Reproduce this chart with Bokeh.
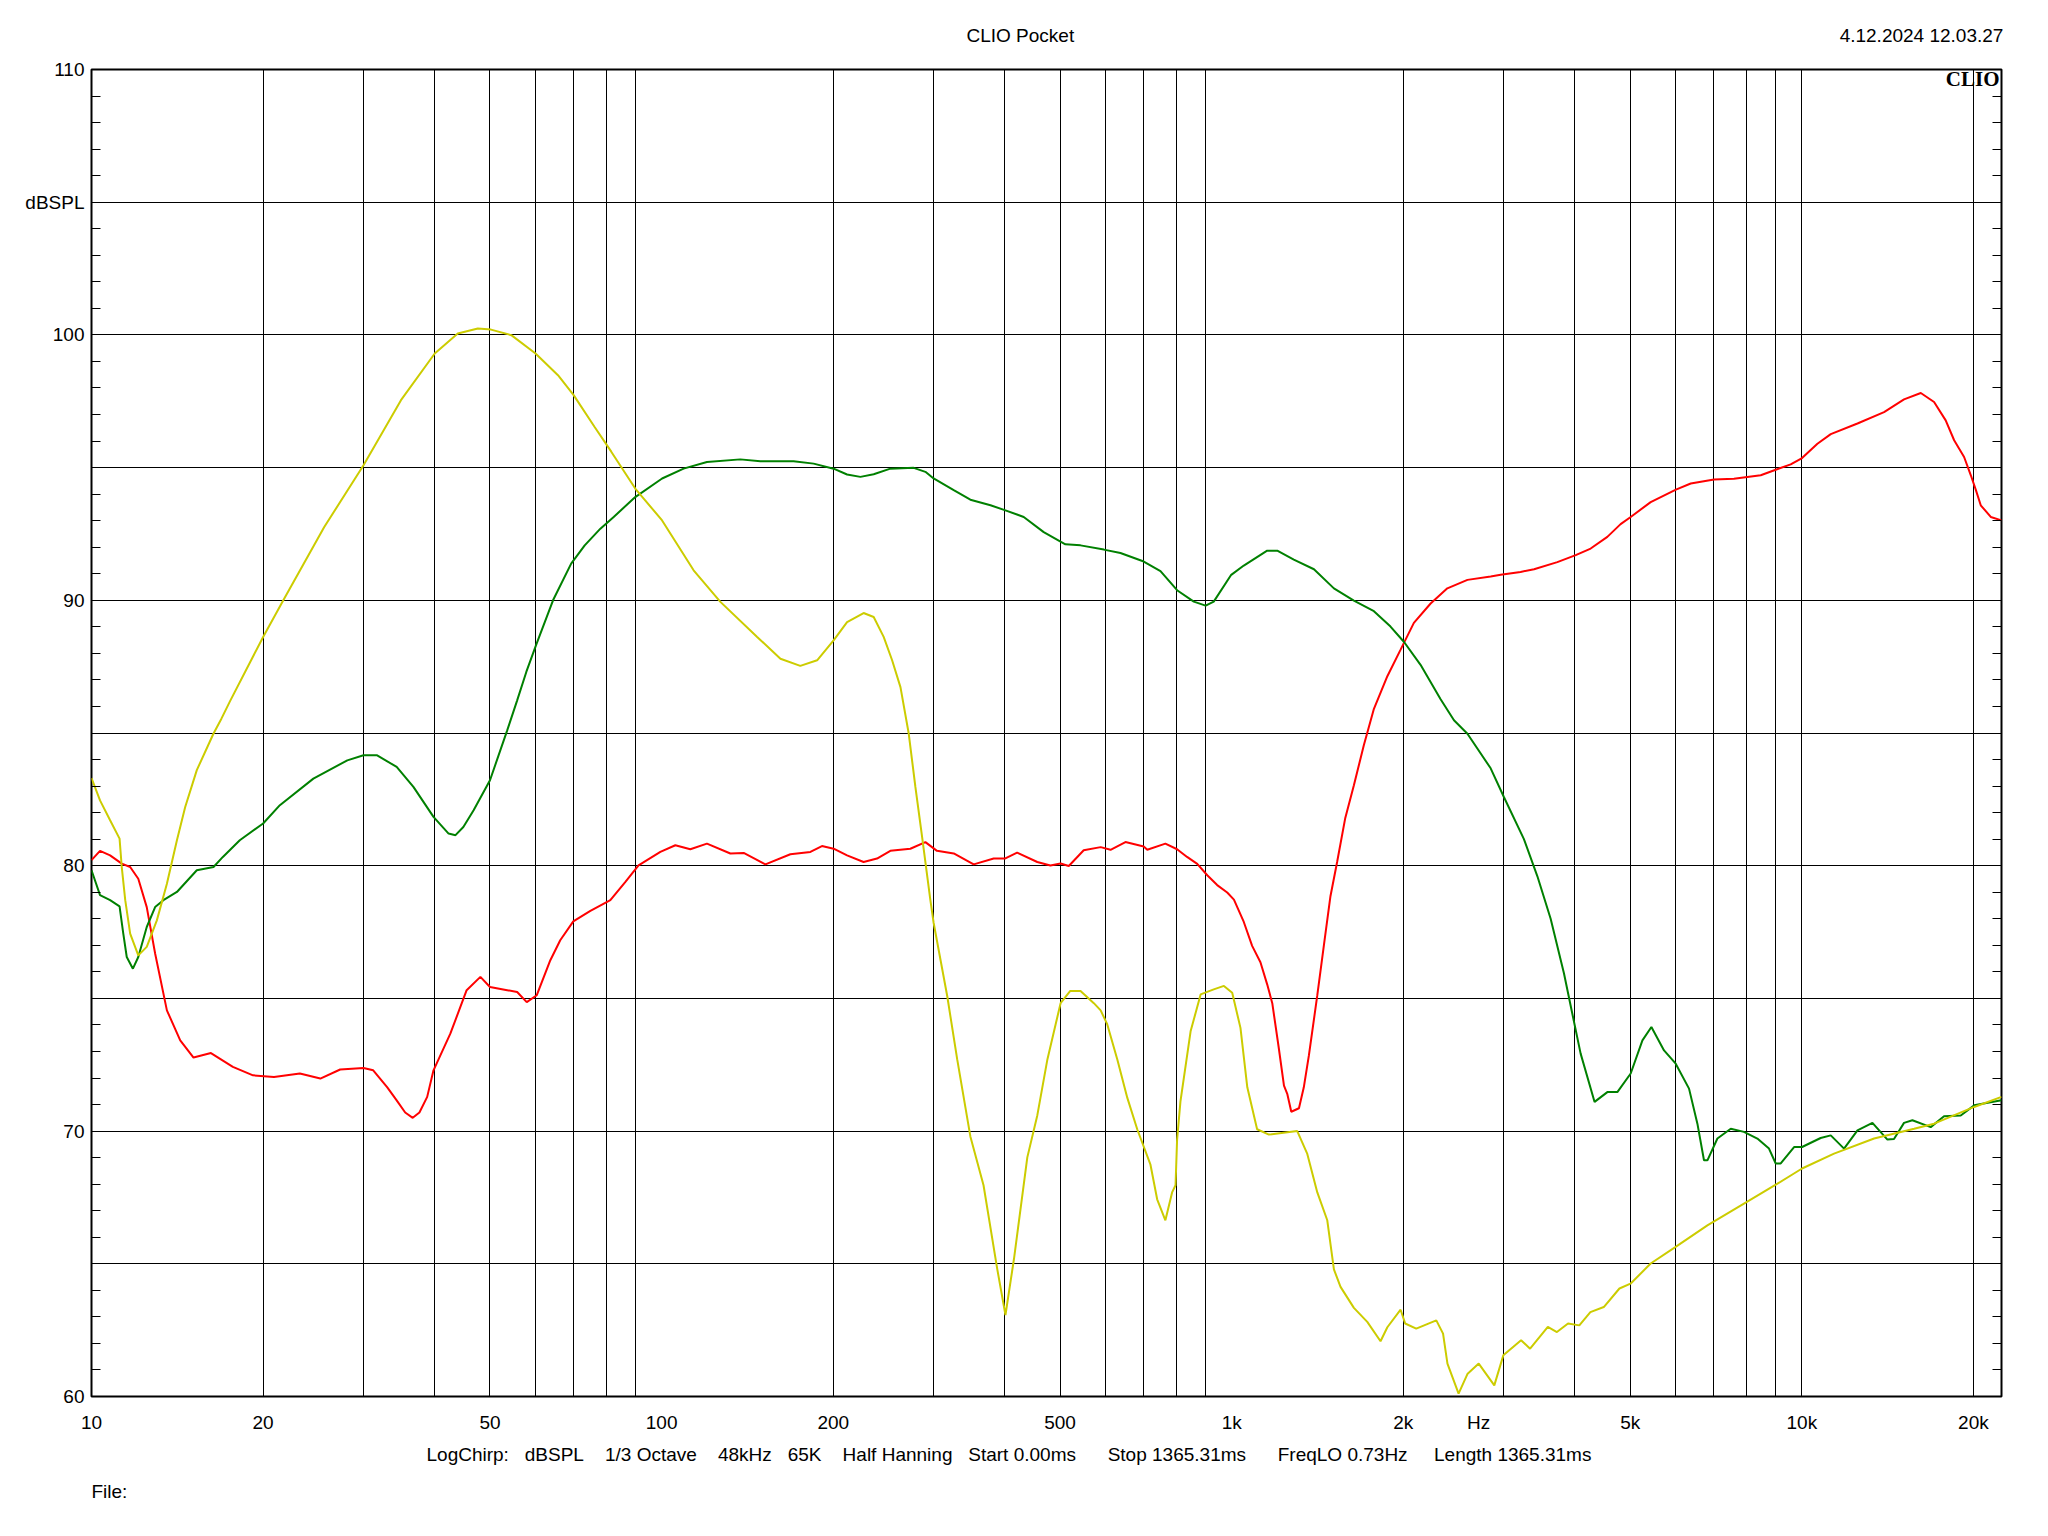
from bokeh.plotting import figure
from bokeh.models import FixedTicker, LinearAxis, Label, Title
from bokeh.embed import file_html
from bokeh.resources import INLINE

# ---------------- data ----------------
yellow_f = [10, 10.35, 10.78, 11.2, 11.3, 11.46, 11.69, 12.08, 12.5, 13.02, 13.56, 14.12, 14.6, 15.3,
            16.37, 16.9, 17.5, 20.0, 21.7, 25.6, 30.0, 34.9, 40.0, 43.9, 47.6, 50.2, 54.5, 60.1, 65.8,
            70.1, 76.3, 81.6, 89.9, 100.2, 113.8, 126.8, 147.1, 161.6, 175.1, 187.4, 200.3, 211.5,
            226.1, 235.5, 245.2, 253.7, 262.4, 271.3, 278.7, 286.4, 296.1, 300, 317, 330, 348, 367,
            388, 401, 415, 438, 456, 475, 501, 521, 543, 573, 589, 605, 630, 656, 683, 720, 740, 765,
            786, 797, 802, 813, 847, 882, 930, 969, 1002, 1036, 1065, 1108, 1162, 1303, 1357, 1413,
            1471, 1511, 1552, 1638, 1729, 1824, 1875, 1978, 2015, 2107, 2285, 2348, 2390, 2500, 2593,
            2712, 2888, 2995, 3218, 3337, 3585, 3719, 3890, 4071, 4257, 4494, 4787, 5006, 5431, 5998,
            6829, 7916, 9063, 10010, 11390, 13390, 15740, 17060, 20060, 22400]
yellow_db = [83.3, 82.46, 81.71, 81.02, 79.95, 78.7, 77.44, 76.62, 76.94, 77.94, 79.32, 80.96, 82.21, 83.6,
             84.98, 85.54, 86.2, 88.62, 90.0, 92.76, 95.09, 97.54, 99.3, 100.05, 100.24, 100.2, 99.99, 99.3, 98.48,
             97.73, 96.53, 95.6, 94.21, 93.01, 91.13, 89.94, 88.62, 87.8, 87.53, 87.74, 88.49, 89.18,
             89.52, 89.37, 88.62, 87.74, 86.73, 84.98, 82.97, 81.08, 78.7, 77.85, 75.08, 72.7, 69.8, 67.96,
             64.79, 63.07, 65.18, 69.01, 70.59, 72.7, 74.82, 75.28, 75.28, 74.82, 74.55, 74.02, 72.7, 71.25, 70.06, 68.75, 67.43, 66.64,
             67.69, 67.96, 69.67, 71.12, 73.76, 75.15, 75.34, 75.47, 75.21, 73.89, 71.65, 70.07, 69.87, 70.0, 69.14, 67.69,
             66.64, 64.79, 64.13, 63.34, 62.81, 62.08, 62.61, 63.27, 62.75, 62.56, 62.87, 62.37, 61.24, 60.11, 60.86,
             61.24, 60.42, 61.55, 62.12, 61.8, 62.62, 62.43, 62.75, 62.68, 63.18, 63.37, 64.07, 64.25, 65.01, 65.63,
             66.45, 67.27, 68.02, 68.59, 69.15, 69.72, 70.09, 70.28, 70.91, 71.29]

green_f = [10, 10.35, 10.78, 11.2, 11.37, 11.53, 11.82, 12.08, 12.5, 12.93, 13.37, 14.12, 15.3, 16.37, 17.0,
           18.2, 20.0, 21.4, 24.5, 28.1, 30.0, 31.7, 34.3, 36.7, 39.8, 42.3, 43.5, 44.9, 46.8, 50.0, 53.6,
           55.8, 57.9, 60.2, 64.5, 69.4, 73.3, 78.1, 82.4, 89.9, 100.2, 109.3, 120.1, 137.4, 149, 170.4,
           184.8, 200.3, 211.5, 223.2, 235.5, 251.9, 276.8, 290.2, 300, 325.4, 348, 377.5, 401, 431.7, 468,
           510.8, 543, 596.6, 638, 701, 750, 802, 858, 900, 930, 998, 1050, 1154, 1202, 1285, 1394, 1511,
           1638, 1776, 1899, 2006, 2144, 2325, 2454, 2591, 2846, 3002, 3255, 3437, 3626, 3826, 3957, 4093,
           4330, 4559, 4747, 5010, 5253, 5447, 5732, 6009, 6341, 6559, 6736, 6830, 7111, 7505, 7916, 8356,
           8758, 9000, 9184, 9692, 10010, 10790, 11240, 11860, 12520, 13300, 14130, 14510, 15110, 15630,
           16830, 17760, 19000, 20060, 22400]
green_db = [79.83, 78.89, 78.7, 78.47, 77.44, 76.56, 76.12, 76.56, 77.69, 78.44, 78.7, 79.01, 79.83, 79.95, 80.33,
            80.96, 81.59, 82.28, 83.28, 83.97, 84.16, 84.16, 83.72, 82.97, 81.84, 81.21, 81.15, 81.46, 82.09, 83.22, 85.1,
            86.23, 87.3, 88.3, 90.0, 91.38, 92.07, 92.7, 93.14, 93.89, 94.59, 94.96, 95.21, 95.31, 95.24, 95.24,
            95.15, 94.96, 94.74, 94.65, 94.75, 94.96, 94.99, 94.84, 94.59, 94.15, 93.79, 93.58, 93.39, 93.14, 92.57,
            92.11, 92.07, 91.91, 91.78, 91.46, 91.1, 90.38, 89.95, 89.8, 89.95, 90.96, 91.31, 91.87, 91.87, 91.53, 91.17, 90.45,
            89.99, 89.59, 89.01, 88.43, 87.57, 86.27, 85.48, 84.97, 83.67, 82.59, 81.0, 79.6, 78.0, 75.95, 74.43, 72.92,
            71.1, 71.47, 71.47, 72.17, 73.42, 73.92, 73.04, 72.54, 71.6, 70.28, 68.9, 68.9, 69.72, 70.09, 69.97, 69.72,
            69.34, 68.78, 68.78, 69.4, 69.4, 69.74, 69.84, 69.34, 70.03, 70.31, 69.68, 69.7, 70.31, 70.41,
            70.15, 70.56, 70.59, 70.97, 71.16]

red_f = [10, 10.35, 10.78, 11.3, 11.69, 12.08, 12.5, 12.93, 13.56, 14.31, 15.1, 16.2, 17.7, 19.2, 20.9, 23.2,
         25.2, 27.3, 30.0, 31.2, 33.0, 34.3, 35.5, 36.6, 37.6, 38.8, 39.8, 42.6, 45.5, 48.1, 50.0, 53.6, 55.8,
         58.0, 60.4, 63.8, 66.4, 70.0, 75.0, 81.3, 86.4, 91.1, 99.5, 105.7, 112.3, 120.1, 132.0, 139.3, 152.1,
         168.2, 182.4, 191.1, 200.3, 211.5, 226.1, 238.7, 251.9, 273.1, 290.2, 304.1, 325.4, 352.7, 382.4, 400,
         420.3, 456, 480.8, 501, 517.9, 550, 589, 613, 651, 701, 711, 765, 802, 835, 870, 906, 943, 982, 1009,
         1050, 1086, 1123, 1154, 1178, 1209, 1235, 1252, 1272, 1312, 1338, 1366, 1413, 1451, 1490, 1531, 1582,
         1638, 1705, 1776, 1875, 1978, 2087, 2233, 2389, 2591, 2846, 2963, 3211, 3391, 3725, 4012, 4262, 4559,
         4810, 5010, 5431, 6014, 6385, 7015, 7603, 8023, 8471, 9024, 9561, 10010, 10650, 11240, 12520, 13940,
         15110, 16170, 17060, 17880, 18500, 19260, 19790, 20200, 20600, 21450, 22400]
red_db = [80.21, 80.56, 80.39, 80.08, 79.95, 79.51, 78.44, 76.69, 74.55, 73.42, 72.77, 72.94, 72.42, 72.1, 72.04, 72.17,
          71.98, 72.32, 72.38, 72.29, 71.66, 71.16, 70.7, 70.5, 70.7, 71.29, 72.29, 73.67, 75.31, 75.81, 75.43, 75.31, 75.24,
          74.86, 75.12, 76.44, 77.19, 77.9, 78.3, 78.7, 79.39, 80.01, 80.52, 80.77, 80.62, 80.83, 80.46, 80.48, 80.05,
          80.43, 80.52, 80.74, 80.64, 80.39, 80.14, 80.27, 80.56, 80.64, 80.89, 80.56, 80.46, 80.05, 80.27, 80.27,
          80.49, 80.14, 80.01, 80.08, 79.99, 80.58, 80.7, 80.6, 80.89, 80.72, 80.6, 80.83, 80.62, 80.33, 80.07, 79.64, 79.27, 78.99, 78.72,
          77.88, 76.98, 76.36, 75.53, 74.82, 73.15, 71.71, 71.39, 70.73, 70.86, 71.65, 72.86, 75.12, 77.0, 78.85, 80.15, 81.8,
          83.03, 84.54, 85.91, 87.14, 88.14, 89.15, 89.88, 90.45, 90.77, 90.9, 90.96, 91.07, 91.17, 91.44, 91.7, 91.95, 92.39,
          92.87, 93.14, 93.7, 94.17, 94.4, 94.55, 94.58, 94.65, 94.71, 94.93, 95.12, 95.36, 95.9, 96.26, 96.66, 97.09,
          97.57, 97.81, 97.47, 96.78, 96.03, 95.4, 94.71, 94.15, 93.58, 93.14, 93.01]

x_label_ticks = [10, 20, 50, 100, 200, 500, 1000, 2000, 2710, 5000, 10000, 20000]
x_label_texts = ["10", "20", "50", "100", "200", "500", "1k", "2k", "Hz", "5k", "10k", "20k"]
x_grid_ticks = [m * d for d in (10, 100, 1000) for m in range(2, 10)] + [10000, 20000]

y_label_ticks = [60, 70, 80, 90, 100, 105, 110]
y_label_texts = ["60", "70", "80", "90", "100", "dBSPL", "110"]
y_grid_ticks = list(range(60, 111, 5))
y_minor_ticks = [v for v in range(61, 110) if v % 5 != 0]

title_text = "CLIO Pocket"
date_text = "4.12.2024 12.03.27"
logo_text = "CLIO"
file_text = "File:"
info_texts = ["LogChirp:", "dBSPL", "1/3 Octave", "48kHz", "65K", "Half Hanning",
              "Start 0.00ms", "Stop 1365.31ms", "FreqLO 0.73Hz", "Length 1365.31ms"]
info_gaps = [3, 4, 4, 3, 4, 3, 6, 6, 5]

NB = "\u00a0"
FONT = "Liberation Sans"
FS = "19px"

p = figure(width=2032, height=1520, x_axis_type="log", x_range=(10, 22400), y_range=(60, 110),
           output_backend="svg", toolbar_location=None,
           min_border_left=91, min_border_right=31, min_border_top=69, min_border_bottom=124,
           background_fill_color="white", border_fill_color="white")
p.outline_line_color = "black"
p.outline_line_width = 2

# x axis
xa = p.xaxis[0]
xa.ticker = FixedTicker(ticks=x_label_ticks)
xa.major_label_overrides = {t: s for t, s in zip(x_label_ticks, x_label_texts)}
xa.major_tick_in = 0
xa.major_tick_out = 0
xa.minor_tick_in = 0
xa.minor_tick_out = 0
xa.axis_line_color = None
xa.major_label_standoff = 15
xa.major_label_text_font = FONT
xa.major_label_text_font_size = FS
xa.major_label_text_color = "black"

# y axis
ya = p.yaxis[0]
ya.ticker = FixedTicker(ticks=y_label_ticks, minor_ticks=y_minor_ticks)
ya.major_label_overrides = {t: s for t, s in zip(y_label_ticks, y_label_texts)}
ya.major_tick_in = 0
ya.major_tick_out = 0
ya.minor_tick_in = 9
ya.minor_tick_out = 0
ya.minor_tick_line_color = "black"
ya.minor_tick_line_width = 1
ya.axis_line_color = None
ya.major_label_standoff = 7
ya.major_label_text_font = FONT
ya.major_label_text_font_size = FS
ya.major_label_text_color = "black"

ra = LinearAxis(ticker=FixedTicker(ticks=[], minor_ticks=y_minor_ticks))
ra.major_tick_in = 0
ra.major_tick_out = 0
ra.minor_tick_in = 9
ra.minor_tick_out = 0
ra.minor_tick_line_color = "black"
ra.axis_line_color = None
ra.major_label_text_font_size = "0px"
p.add_layout(ra, "right")

# grids
p.xgrid.ticker = FixedTicker(ticks=x_grid_ticks)
p.ygrid.ticker = FixedTicker(ticks=y_grid_ticks)
for g in (p.xgrid[0], p.ygrid[0]):
    g.grid_line_color = "black"
    g.grid_line_alpha = 1.0
    g.grid_line_width = 1

# curves
p.line(red_f, red_db, line_color="#FF0000", line_width=2)
p.line(green_f, green_db, line_color="#008000", line_width=2)
p.line(yellow_f, yellow_db, line_color="#CCCC00", line_width=2)

# header line: title (centred on page) and date (right aligned), one title row
p.title.text = title_text + NB * 145 + date_text
p.title.align = "left"
p.title.offset = 875
p.title.vertical_align = "middle"
p.title.standoff = 45
p.title.text_font = FONT
p.title.text_font_size = FS
p.title.text_font_style = "normal"
p.title.text_color = "black"

info_line = info_texts[0]
for gap, t in zip(info_gaps, info_texts[1:]):
    info_line += NB * gap + t
info_title = Title(text=info_line, align="left", offset=335, vertical_align="middle", standoff=15,
                   text_font=FONT, text_font_size=FS, text_font_style="normal", text_color="black")
p.add_layout(info_title, "below")
file_title = Title(text=file_text, align="left", offset=0, vertical_align="middle", standoff=13,
                   text_font=FONT, text_font_size=FS, text_font_style="normal", text_color="black")
p.add_layout(file_title, "below")

# logo inside the frame, top right
p.add_layout(Label(x=1908, y=1318, x_units="screen", y_units="screen", text=logo_text,
                   text_font="Liberation Serif", text_font_size="21px", text_font_style="bold",
                   text_color="black", text_align="right", text_baseline="alphabetic"))

open("out.html", "w").write(file_html(p, INLINE))
